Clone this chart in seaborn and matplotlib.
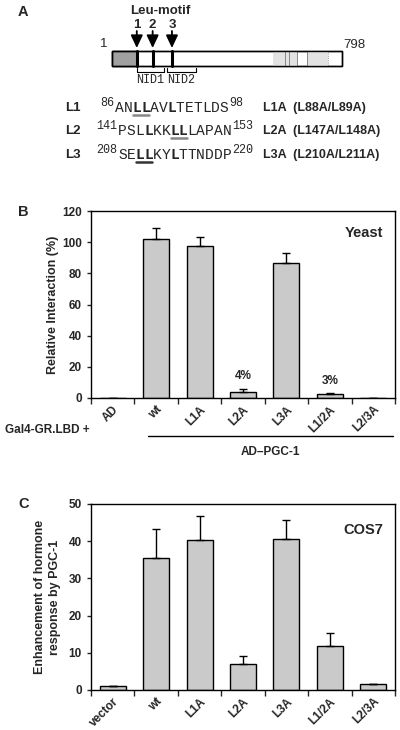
import numpy as np
import pandas as pd
import matplotlib
matplotlib.use("Agg")
import matplotlib.pyplot as plt
from matplotlib.patches import Rectangle
import seaborn as sns

# --- panel A: PGC-1 schematic and Leu motifs ---
protein_len = 798
motif_pos = [86, 141, 208]
motif_names = ["1", "2", "3"]
nid_names = ["NID1", "NID2"]
nid_ranges = [(86, 180), (190, 291)]
dark_region = (1, 86)
light_regions = [(558, 642), (677, 749)]
seq_names = ["L1", "L2", "L3"]
seq_start = [86, 141, 208]
seq_end = [98, 153, 220]
seq_text = ["ANLLAVLTETLDS", "PSLLKKLLLAPAN", "SELLKYLTTNDDP"]
seq_bold = [[2, 3, 6], [3, 6, 7], [2, 3, 6]]
seq_under = [[2, 3], [6, 7], [2, 3]]
mutant_labels = ["L1A  (L88A/L89A)", "L2A  (L147A/L148A)", "L3A  (L210A/L211A)"]

# --- panel B: yeast two-hybrid ---
yeast_labels = ["AD", "wt", "L1A", "L2A", "L3A", "L1/2A", "L2/3A"]
yeast_values = [0, 102, 97.5, 3.8, 86.5, 2.6, 0]
yeast_err = [0, 7, 6, 2, 6.5, 0.6, 0]
yeast_notes = {3: "4%", 5: "3%"}

# --- panel C: COS7 ---
cos7_labels = ["vector", "wt", "L1A", "L2A", "L3A", "L1/2A", "L2/3A"]
cos7_values = [1.0, 35.4, 40.3, 7.0, 40.5, 11.9, 1.5]
cos7_err = [0, 7.8, 6.4, 2.2, 5.3, 3.4, 0.15]

sns.set_theme(style="ticks")
plt.rcParams['font.family'] = ['Liberation Sans', 'DejaVu Sans']
plt.rcParams['font.weight'] = 'bold'

fig = plt.figure(figsize=(4, 7.3), dpi=100)

# overlay in pixel coordinates for the drawing / annotations
ov = fig.add_axes([0, 0, 1, 1])
ov.set_xlim(0, 400)
ov.set_ylim(730, 0)
ov.axis('off')

MONO = 'Liberation Mono'


def rx(res):
    return 112 + res / protein_len * 230


# protein box
ov.add_patch(Rectangle((rx(0), 51), rx(protein_len) - rx(0), 15, fc='white', ec='black', lw=1, zorder=2))
ov.add_patch(Rectangle((rx(dark_region[0] - 1), 51), rx(dark_region[1]) - rx(dark_region[0] - 1), 15,
                       fc='#a0a0a0', ec='black', lw=1, zorder=3))
for a, b in light_regions:
    ov.add_patch(Rectangle((rx(a), 51), rx(b) - rx(a), 15, fc='#e2e2e2', ec='none', zorder=3))
for r in [600, 614, 642, 677]:
    ov.plot([rx(r), rx(r)], [51, 66], color='#777777', lw=0.6, zorder=4)
ov.plot([rx(749), rx(749)], [51, 66], color='#777777', lw=0.6, ls=':', zorder=4)
ov.add_patch(Rectangle((rx(0), 51), rx(protein_len) - rx(0), 15, fc='none', ec='black', lw=1, zorder=5))
for p, n in zip(motif_pos, motif_names):
    ov.plot([rx(p), rx(p)], [51, 66], color='black', lw=2.2, zorder=6)
    ov.annotate('', xy=(rx(p), 48), xytext=(rx(p), 31),
                arrowprops=dict(arrowstyle='-|>,head_width=0.4,head_length=0.85', color='black',
                                lw=1.3, shrinkA=0, shrinkB=0, mutation_scale=9))
    ov.text(rx(p), 25, n, ha='center', va='center', fontsize=9.5, fontweight='bold')
ov.text(160, 11, "Leu-motif", ha='center', va='center', fontsize=9.5, fontweight='bold')
ov.text(104, 44, "1", ha='center', va='center', fontsize=9.5, fontweight='normal')
ov.text(343, 45, str(protein_len), ha='left', va='center', fontsize=9.5, fontweight='normal')
for (a, b), n in zip(nid_ranges, nid_names):
    ov.plot([rx(a), rx(a), rx(b), rx(b)], [68, 71.5, 71.5, 68], color='black', lw=0.8)
    ov.text((rx(a) + rx(b)) / 2, 80, n, ha='center', va='center', fontsize=8.5,
            family=MONO, fontweight='normal')

row_y = [108, 131, 155]
row_x0 = [115, 118, 118]
pitch = 8.7
for i in range(3):
    y = row_y[i]
    ov.text(65, y, seq_names[i], ha='left', va='center', fontsize=9.5, fontweight='bold')
    x0 = row_x0[i]
    ov.text(x0 - 1, y - 5, str(seq_start[i]), ha='right', va='center', fontsize=8.5,
            family=MONO, fontweight='normal')
    for j, ch in enumerate(seq_text[i]):
        ov.text(x0 + pitch * (j + 0.5), y, ch, ha='center', va='center', fontsize=10.5,
                family=MONO, fontweight='bold' if j in seq_bold[i] else 'normal')
    a, b = seq_under[i]
    ov.plot([x0 + pitch * a + 0.5, x0 + pitch * (b + 1) - 0.5], [y + 6.5, y + 6.5],
            color='#888888' if i < 2 else '#333333', lw=1.8)
    ov.text(x0 + pitch * len(seq_text[i]) + 1, y - 5, str(seq_end[i]), ha='left', va='center',
            fontsize=8.5, family=MONO, fontweight='normal')
    ov.text(263, y, mutant_labels[i], ha='left', va='center', fontsize=9, fontweight='bold')

for lab, yy in zip(["A", "B", "C"], [12, 212, 504]):
    ov.text(18, yy, lab, ha='left', va='center', fontsize=10.5, fontweight='bold')


def bar_panel(ax, labels, values, err, ymax, step):
    df = pd.DataFrame({"label": labels, "value": values})
    sns.barplot(data=df, x="label", y="value", color='#cacaca', saturation=1, width=0.6,
                edgecolor='black', linewidth=1, errorbar=None, ax=ax)
    x = np.arange(len(labels))
    ax.errorbar(x, values, yerr=[np.zeros(len(err)), err], fmt='none', ecolor='black',
                elinewidth=1, capsize=3, capthick=1)
    ax.set_xlim(-0.5, len(labels) - 0.5)
    ax.set_ylim(0, ymax)
    ax.set_yticks(np.arange(0, ymax + 1, step))
    ax.set_xticks(np.arange(-0.5, len(labels)), minor=True)
    ax.tick_params(axis='x', which='major', length=0, pad=4)
    ax.tick_params(axis='x', which='minor', length=4, width=1, direction='out')
    ax.tick_params(axis='y', length=3, width=1, labelsize=8.5)
    ax.set_xticks(x)
    ax.set_xticklabels(labels, rotation=45, ha='right', rotation_mode='anchor',
                       fontsize=8.5, fontweight='bold')
    ax.set_xlabel("")
    for s in ax.spines.values():
        s.set_linewidth(1)
        s.set_color('black')
    for t in ax.get_yticklabels():
        t.set_fontweight('bold')


# panel B
axB = fig.add_axes([91 / 400, 1 - 398 / 730, 304 / 400, 187 / 730])
bar_panel(axB, yeast_labels, yeast_values, yeast_err, 120, 20)
axB.set_ylabel("Relative Interaction (%)", fontsize=9, fontweight='bold')
axB.yaxis.set_label_coords(-0.105, 0.5)
axB.text(0.96, 0.88, "Yeast", transform=axB.transAxes, ha='right', va='center',
         fontsize=10.5, fontweight='bold')
for i, note in yeast_notes.items():
    axB.text(i, yeast_values[i] + yeast_err[i] + 8, note, ha='center', va='center',
             fontsize=8.5, fontweight='bold')

ov.text(5, 430, "Gal4-GR.LBD +", ha='left', va='center', fontsize=8.5, fontweight='bold')
ov.plot([148, 393], [436, 436], color='black', lw=1)
ov.text(270, 452, "AD\u2013PGC-1", ha='center', va='center', fontsize=8.5, fontweight='bold')

# panel C
axC = fig.add_axes([91 / 400, 1 - 690 / 730, 304 / 400, 186 / 730])
bar_panel(axC, cos7_labels, cos7_values, cos7_err, 50, 10)
axC.set_ylabel("Enhancement of hormone\nresponse by PGC-1", fontsize=9, fontweight='bold',
               linespacing=1.25)
axC.yaxis.set_label_coords(-0.10, 0.5)
axC.text(0.96, 0.86, "COS7", transform=axC.transAxes, ha='right', va='center',
         fontsize=10.5, fontweight='bold')

fig.savefig("out.png", dpi=100)
